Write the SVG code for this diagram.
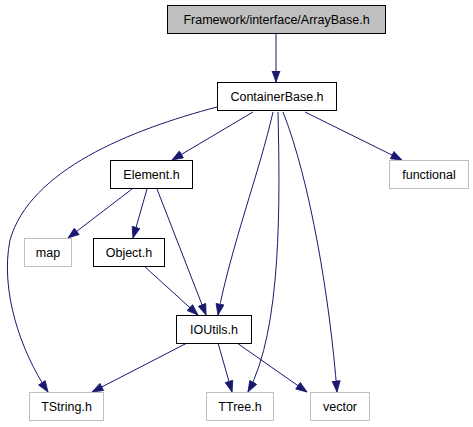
<svg xmlns="http://www.w3.org/2000/svg" width="473" height="427" viewBox="0 0 473 427">
<style>
.n rect{fill:#fff;stroke:#000;stroke-width:1}
.n.g rect{stroke:#bfbfbf}
.n.root rect{fill:#bfbfbf}
.n text{font-family:"Liberation Sans",Arial,sans-serif;font-size:12.5px;text-anchor:middle;fill:#000}
#edges path{fill:none;stroke:#191970;stroke-width:1;marker-end:url(#ah)}
</style>
<defs>
<marker id="ah" markerUnits="userSpaceOnUse" markerWidth="13" markerHeight="10" refX="11.5" refY="4.5" orient="auto">
<path d="M0.5,0.5 L11.5,4.5 L0.5,8.5 z" fill="#191970" stroke="#191970" stroke-width="0.8"/>
</marker>
</defs>
<rect width="473" height="427" fill="#fff"/>
<g id="edges">
<path d="M276,33 L276,82"/>
<path d="M253,112 L172,160"/>
<path d="M305,112 L402,160"/>
<path d="M217,107 C130,130 30,170 10,240 C0,290 20,350 48,392"/>
<path d="M273,112 C260,170 230,250 218,315"/>
<path d="M278,112 C280,200 282,330 248,392"/>
<path d="M283,112 C310,180 330,300 337,392"/>
<path d="M132,189 L68,238"/>
<path d="M147,189 L133,238"/>
<path d="M157,189 L206,315"/>
<path d="M144,266 L198,315"/>
<path d="M187,343 L92,392"/>
<path d="M218,343 L232,392"/>
<path d="M237,343 L307,392"/>
</g>
<g id="ArrayBase" class="n root"><rect x="167.5" y="5.5" width="218" height="28"/><text x="276.5" y="24">Framework/interface/ArrayBase.h</text></g>
<g id="ContainerBase" class="n"><rect x="217.5" y="82.5" width="119" height="28"/><text x="277" y="101">ContainerBase.h</text></g>
<g id="Element" class="n"><rect x="110.5" y="160.5" width="82" height="28"/><text x="151.5" y="179">Element.h</text></g>
<g id="functional" class="n g"><rect x="389.5" y="160.5" width="79" height="28"/><text x="429" y="179">functional</text></g>
<g id="map" class="n g"><rect x="24.5" y="238.5" width="47" height="28"/><text x="48" y="257">map</text></g>
<g id="Object" class="n"><rect x="93.5" y="238.5" width="71" height="28"/><text x="129" y="257">Object.h</text></g>
<g id="IOUtils" class="n"><rect x="176.5" y="315.5" width="75" height="28"/><text x="214" y="334">IOUtils.h</text></g>
<g id="TString" class="n g"><rect x="29.5" y="392.5" width="74" height="28"/><text x="66.5" y="411">TString.h</text></g>
<g id="TTree" class="n g"><rect x="206.5" y="392.5" width="67" height="28"/><text x="240" y="411">TTree.h</text></g>
<g id="vector" class="n g"><rect x="310.5" y="392.5" width="59" height="28"/><text x="340" y="411">vector</text></g>
</svg>
